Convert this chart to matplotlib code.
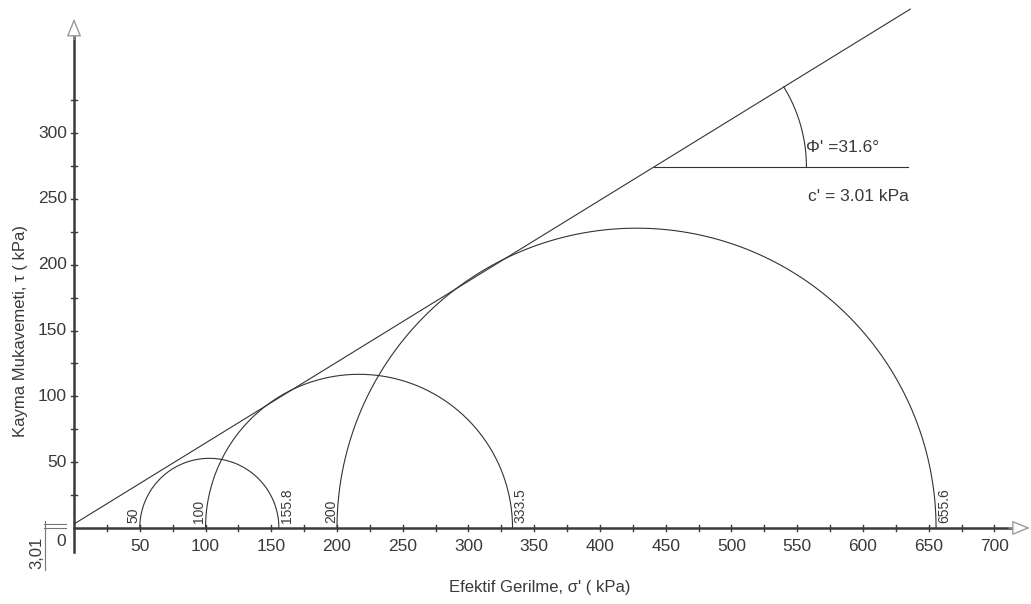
import numpy as np
import matplotlib.pyplot as plt

plt.rcParams["font.family"] = ["Liberation Sans", "DejaVu Sans"]

# test data: (sigma3, sigma1) pairs in kPa
sigma3 = [50, 100, 200]
sigma1 = [155.8, 333.5, 655.6]
cohesion = 3.01
phi_deg = 31.6

x_ticks = [50, 100, 150, 200, 250, 300, 350, 400, 450, 500, 550, 600, 650, 700]
x_minor = list(range(25, 725, 25))
y_ticks = [50, 100, 150, 200, 250, 300]
y_minor = list(range(25, 350, 25))

env_end = 636
x_axis_end = 727
y_axis_end = 387
y_axis_bottom = -18
note_sigma = 441
note_end = 634
arc_radius = 116

line_col = "#333333"
axis_col = "#3a3a3a"
text_col = "#3a3a3a"

fig = plt.figure(figsize=(10.31, 6.04), dpi=100)
ax = fig.add_axes([0, 0, 1, 1])
ax.set_xlim(-56.3, 727.8)
ax.set_ylim(-57.8, 401.2)
ax.axis("off")

# axes
ax.plot([0, x_axis_end - 12], [0, 0], color=axis_col, lw=1.8, zorder=3)
ax.plot([0, 0], [y_axis_bottom, y_axis_end - 12], color=axis_col, lw=1.8, zorder=3)
ax.annotate("", xy=(x_axis_end, 0), xytext=(x_axis_end - 16, 0),
            arrowprops=dict(arrowstyle="-|>,head_length=1.1,head_width=0.45",
                            fc="white", ec="#9a9a9a", lw=1.0, shrinkA=0, shrinkB=0))
ax.annotate("", xy=(0, y_axis_end), xytext=(0, y_axis_end - 16),
            arrowprops=dict(arrowstyle="-|>,head_length=1.1,head_width=0.45",
                            fc="white", ec="#9a9a9a", lw=1.0, shrinkA=0, shrinkB=0))

# ticks
for t in x_minor:
    ax.plot([t, t], [-2.5, 2.5], color=axis_col, lw=1.0)
for t in y_minor:
    ax.plot([-2.5, 2.5], [t, t], color=axis_col, lw=1.0)
for t in x_ticks:
    ax.text(t, -14, str(t), ha="center", va="center", fontsize=12.5, color=text_col)
for t in y_ticks:
    ax.text(-5.5, t, str(t), ha="right", va="center", fontsize=12.5, color=text_col)
ax.text(-10, -10, "0", ha="center", va="center", fontsize=12.5, color=text_col)

# cohesion dimension near origin
ax.plot([-23, -6], [cohesion, cohesion], color="#777777", lw=0.8)
ax.plot([-23, -6], [0, 0], color="#777777", lw=0.8)
ax.plot([-22, -22], [5, -32], color="#777777", lw=0.8)
ax.text(-28.5, -19, "3,01", rotation=90, ha="center", va="center", fontsize=12, color=text_col)

# failure envelope
tanphi = np.tan(np.radians(phi_deg))
xe = np.array([0, env_end])
ax.plot(xe, cohesion + tanphi * xe, color=line_col, lw=0.8)

# Mohr circles
th = np.linspace(0, np.pi, 400)
for s3, s1 in zip(sigma3, sigma1):
    c = (s3 + s1) / 2
    r = (s1 - s3) / 2
    ax.plot(c + r * np.cos(th), r * np.sin(th), color=line_col, lw=0.8)
    ax.annotate(f"{s3:g}", xy=(s3, 3.5), xytext=(-4.5, 0), textcoords="offset points",
                rotation=90, ha="center", va="bottom", fontsize=10, color=text_col)
    ax.annotate(f"{s1:g}", xy=(s1, 3.5), xytext=(6, 0), textcoords="offset points",
                rotation=90, ha="center", va="bottom", fontsize=10, color=text_col)

# angle annotation
ty = cohesion + tanphi * note_sigma
ax.plot([note_sigma, note_end], [ty, ty], color=line_col, lw=0.8)
ang = np.linspace(0, np.radians(phi_deg), 60)
ax.plot(note_sigma + arc_radius * np.cos(ang), ty + arc_radius * np.sin(ang),
        color=line_col, lw=0.8)
ax.text(557, 289, "\u03a6' =31.6\u00b0", ha="left", va="center", fontsize=12.5, color=text_col)
ax.text(558, 252, "c' = 3.01 kPa", ha="left", va="center", fontsize=12.5, color=text_col)

# axis titles
ax.text(354, -45, "Efektif Gerilme, \u03c3' ( kPa)", ha="center", va="center",
        fontsize=12, color=text_col)
ax.text(-41, 150, "Kayma Mukavemeti, \u03c4 ( kPa)", rotation=90, ha="center", va="center",
        fontsize=12, color=text_col)

fig.savefig("out.png", dpi=100)
